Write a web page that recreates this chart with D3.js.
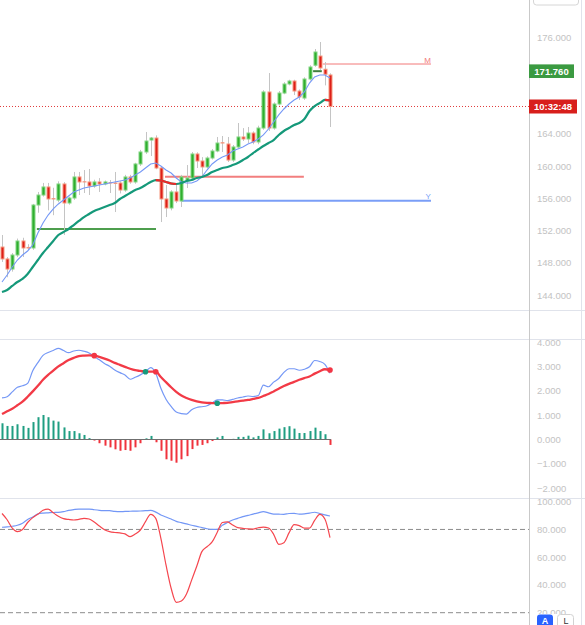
<!DOCTYPE html>
<html><head><meta charset="utf-8">
<script src="https://cdn.jsdelivr.net/npm/d3@7"></script>
<style>body{margin:0;background:#fff}svg{display:block}text{font-family:"Liberation Sans",Arial,sans-serif}</style>
</head><body><svg id="c" width="585" height="625"></svg>
<script>
// ---------- DATA ----------
const openP  = [149.95,148.47,147.22,148.96,150.70,149.90,149.83,155.16,156.40,157.40,155.95,155.78,157.77,155.41,156.03,158.64,158.04,158.02,157.52,158.02,157.77,157.93,157.89,157.89,157.02,158.64,158.02,160.25,161.74,163.22,163.47,159.75,155.91,154.79,156.78,155.66,158.14,158.51,161.49,160.62,159.88,160.99,161.86,162.88,162.73,160.74,162.36,163.60,163.35,164.09,162.98,164.71,169.18,164.71,167.69,169.05,170.17,170.54,169.30,168.43,170.79,172.50,173.64,172.00,171.29];
const highP  = [151.44,148.70,149.20,151.00,151.10,150.30,155.30,156.78,157.90,157.90,157.30,158.10,158.00,156.20,159.26,159.26,159.50,159.63,158.30,158.50,158.20,158.26,159.26,158.10,158.90,158.90,160.40,162.00,164.22,163.60,163.80,160.00,157.64,157.00,157.77,158.90,160.12,161.74,161.70,161.10,161.20,162.10,163.60,163.72,163.60,162.60,165.33,164.70,164.84,164.30,165.00,169.40,171.53,167.90,169.30,170.40,170.70,170.70,169.50,171.00,172.50,174.51,175.38,172.90,171.50];
const lowP   = [148.10,146.20,146.90,148.70,148.71,149.60,149.60,154.20,156.20,154.50,153.90,155.50,151.44,155.20,155.80,156.40,156.65,156.40,157.30,156.78,157.60,156.65,154.29,156.60,156.80,157.80,157.80,160.00,161.50,161.24,159.60,153.05,153.67,154.50,155.40,154.91,157.27,158.30,159.75,158.64,159.70,160.80,161.70,161.74,160.50,160.50,162.20,163.10,162.85,162.70,162.70,164.50,164.34,164.50,167.50,168.90,170.00,168.80,168.19,168.20,170.60,172.30,171.90,170.00,164.84];
const closeP = [148.47,147.22,148.96,150.70,149.83,149.83,155.16,156.40,157.40,155.91,155.91,157.77,155.41,156.03,158.64,158.02,158.02,157.52,158.02,157.77,158.02,157.89,157.85,157.02,158.64,158.02,160.25,161.74,163.10,163.47,159.75,155.91,154.79,156.78,155.66,158.64,158.51,161.49,160.62,159.88,160.99,161.86,162.85,162.85,160.74,162.36,163.60,163.35,164.09,162.98,164.71,169.18,164.71,167.69,169.05,170.17,170.54,169.30,168.56,170.79,172.28,174.14,172.16,171.38,167.38];
const maFast = [145.61,146.48,147.47,148.34,148.96,149.46,150.20,151.69,152.93,153.92,154.67,155.29,155.78,156.28,156.78,157.02,157.27,157.40,157.52,157.64,157.77,157.89,158.02,158.14,158.26,158.51,158.88,159.26,159.75,160.25,160.37,160.00,159.50,159.13,158.51,158.02,157.89,157.89,158.14,158.64,159.50,160.25,160.74,161.12,161.36,161.86,162.11,162.36,162.73,162.98,163.35,163.85,164.59,165.46,166.33,167.07,167.69,168.19,168.56,169.18,170.29,171.04,171.29,171.29,170.91];
const maSlow = [144.37,144.62,145.12,145.61,145.99,146.60,147.47,148.34,149.21,149.95,150.70,151.44,151.81,152.19,152.68,153.18,153.67,154.05,154.42,154.67,154.91,155.16,155.41,155.91,156.28,156.65,157.02,157.27,157.64,158.02,158.26,158.20,158.02,157.83,157.77,157.89,158.14,158.26,158.51,158.64,158.88,159.26,159.50,159.75,159.88,160.12,160.37,160.74,161.12,161.61,162.05,162.48,162.85,163.22,163.85,164.34,164.71,165.09,165.33,165.83,166.82,167.44,167.81,168.19,168.13];
const macdLine = [1.70,1.75,1.95,2.14,2.20,2.30,2.82,3.15,3.45,3.57,3.65,3.74,3.65,3.56,3.63,3.66,3.62,3.55,3.40,3.27,3.12,3.00,2.85,2.74,2.64,2.47,2.55,2.65,2.78,2.95,2.72,2.10,1.65,1.35,1.12,1.06,1.04,1.22,1.31,1.34,1.38,1.50,1.62,1.62,1.59,1.64,1.70,1.74,1.78,1.76,1.80,2.23,2.16,2.35,2.50,2.75,2.90,2.90,2.84,2.88,2.98,3.24,3.20,3.08,2.72];
const signalLine = [1.04,1.15,1.26,1.40,1.55,1.75,1.97,2.20,2.45,2.65,2.82,3.00,3.13,3.26,3.35,3.42,3.44,3.45,3.44,3.39,3.32,3.24,3.14,3.06,2.98,2.90,2.84,2.81,2.78,2.78,2.78,2.56,2.35,2.14,1.95,1.80,1.70,1.62,1.56,1.52,1.50,1.49,1.48,1.49,1.50,1.53,1.56,1.59,1.62,1.66,1.70,1.78,1.86,1.97,2.08,2.19,2.28,2.36,2.45,2.52,2.58,2.70,2.80,2.88,2.85];
const histogram = [0.66,0.55,0.55,0.62,0.55,0.47,0.71,0.91,1.00,0.91,0.77,0.73,0.49,0.34,0.34,0.25,0.18,0.05,-0.05,-0.16,-0.26,-0.33,-0.41,-0.47,-0.44,-0.47,-0.33,-0.16,0.04,0.14,-0.12,-0.47,-0.82,-0.88,-0.96,-0.82,-0.69,-0.40,-0.26,-0.23,-0.16,-0.07,0.08,0.14,0.01,0.02,0.10,0.10,0.15,0.08,0.14,0.41,0.25,0.34,0.44,0.50,0.54,0.44,0.26,0.26,0.34,0.48,0.34,0.21,-0.23];
const stochFast = [91.5,87.0,81.0,78.5,80.0,85.0,88.5,91.0,93.8,94.7,92.0,89.5,87.8,87.2,86.8,87.3,88.0,87.5,85.3,82.5,79.8,78.4,77.8,77.5,76.8,74.8,76.7,79.6,85.6,90.9,88.0,73.6,54.4,37.6,27.5,28.5,33.5,43.5,53.5,64.0,67.5,71.0,78.0,85.0,85.4,83.2,81.3,80.8,80.4,80.3,81.2,81.7,81.0,76.5,69.3,70.5,77.5,83.5,82.8,81.0,81.0,86.5,90.9,87.5,74.1];
const stochSlow = [81.6,81.8,82.3,83.0,84.5,87.2,89.0,91.2,91.8,92.0,92.2,92.3,92.8,93.7,94.3,94.7,94.7,94.7,94.2,93.8,93.6,93.5,93.0,92.8,93.0,93.1,93.2,93.3,93.5,93.8,92.5,90.4,89.0,87.5,85.8,84.9,84.0,83.0,82.2,81.3,80.5,80.1,80.1,83.0,85.0,86.8,88.0,89.2,90.1,91.1,92.0,92.8,92.0,91.1,91.0,90.9,91.5,91.6,91.0,91.2,91.8,92.4,91.5,90.5,89.7];
// 168 and 172 sit behind the two price labels in the reference
const priceTicks = [144,148,152,156,160,164,176];
const macdTicks = [-2,-1,0,1,2,3,4];
const stochTicks = [20,40,60,80,100];
const stochBands = [80,20];
const levelPrice = [172.65,155.68,158.66,152.19,171.76];
const levelFrom  = [62.6,34.9,31.8,6.8,60.7];
const levelTo    = [83.7,83.7,58.9,30.05,62.4];
const levelText  = ["M","Y","","",""];
const markPrice = 171.76;
const markLabel = "171.760";
const countdown = "10:32:48";

// ---------- STYLE ----------
const levelColor = ["#f27878","#7a9ef7","#f06868","#4e9e4e","#3f7f3f"];
const levelWidth = [1,2,2,2,2];

const svg = d3.select('#c');
const AX = 529;
svg.append('rect').attr('width',585).attr('height',625).attr('fill','#fff');

const x  = d3.scaleLinear().domain([0,64]).range([2,330]);
const yP = d3.scaleLinear().domain([144,176]).range([295,37]);
const yM = d3.scaleLinear().domain([-2,4]).range([488,342]);
const yS = d3.scaleLinear().domain([20,100]).range([612.7,501.7]);

const defs = svg.append('defs');
function clip(id,x0,y0,w,h){defs.append('clipPath').attr('id',id).append('rect').attr('x',x0).attr('y',y0).attr('width',w).attr('height',h);}
clip('cp',0,0,AX,310); clip('cm',0,340,AX,158); clip('cs',0,499,AX,126);
clip('ap',AX,0,56,310); clip('am',AX,340,56,158); clip('as',AX,499,56,115);

// frame lines
const grid='#e0e3eb';
[310.5,339.5,498.5].forEach(y=>svg.append('line').attr('x1',0).attr('x2',585).attr('y1',y).attr('y2',y).attr('stroke',grid));
svg.append('line').attr('x1',581.5).attr('x2',581.5).attr('y1',0).attr('y2',625).attr('stroke',grid);
svg.append('line').attr('x1',AX+0.5).attr('x2',AX+0.5).attr('y1',0).attr('y2',625).attr('stroke','#c9c9c9');
svg.append('rect').attr('x',533.5).attr('y',-8).attr('width',45).attr('height',13).attr('rx',3).attr('fill','none').attr('stroke','#d6d6d6');

// ---------- PRICE PANE ----------
const gp = svg.append('g').attr('clip-path','url(#cp)');
const idx = d3.range(openP.length);
const cx = i => Math.round(x(i))+0.5;

gp.append('line').attr('x1',0).attr('x2',AX).attr('y1',yP(closeP[closeP.length-1])).attr('y2',yP(closeP[closeP.length-1]))
  .attr('stroke','#e03c3c').attr('stroke-dasharray','1,2');

levelPrice.forEach((p,k)=>{
  gp.append('line').attr('x1',x(levelFrom[k])).attr('x2',x(levelTo[k])).attr('y1',yP(p)).attr('y2',yP(p))
    .attr('stroke',levelColor[k]).attr('stroke-width',levelWidth[k]).attr('opacity',k===2?0.85:1);
  if(levelText[k]) gp.append('text').attr('x',x(levelTo[k])).attr('y',yP(p)-1.5).attr('text-anchor','end')
    .attr('font-size',8).attr('fill',levelColor[k]).text(levelText[k]);
});

gp.selectAll('.wk').data(idx).enter().append('line')
  .attr('x1',cx).attr('x2',cx).attr('y1',i=>yP(highP[i])).attr('y2',i=>yP(lowP[i]))
  .attr('stroke','#c4c4c4').attr('stroke-width',1);
gp.selectAll('.bd').data(idx).enter().append('rect')
  .attr('x',i=>cx(i)-1.5).attr('width',3)
  .attr('y',i=>yP(Math.max(openP[i],closeP[i])))
  .attr('height',i=>Math.abs(yP(openP[i])-yP(closeP[i])))
  .attr('fill',i=>closeP[i]>openP[i]?'#2fae2f':'#dd1f18')
  .attr('stroke',i=>closeP[i]>openP[i]?'#82d682':'#f5987e').attr('stroke-width',1);

const lineFast = d3.line().x((d,i)=>x(i)).y(d=>yP(d));
gp.append('path').attr('d',lineFast(maFast)).attr('fill','none').attr('stroke','#7598f6').attr('stroke-width',1.1);
const lineSlow = d3.line().x(d=>x(d)).y(d=>yP(maSlow[d])).curve(d3.curveMonotoneX);
gp.append('path').attr('d',lineSlow(idx)).attr('fill','none').attr('stroke','#15997a').attr('stroke-width',2.2);
let run=null;
for(let i=1;i<maSlow.length;i++){
  if(maSlow[i]<maSlow[i-1]){ if(!run) run=[i-1]; run.push(i); }
  else if(run){ gp.append('path').attr('d',lineSlow(run)).attr('fill','none').attr('stroke','#ee2a2a').attr('stroke-width',2.2); run=null; }
}
if(run) gp.append('path').attr('d',lineSlow(run)).attr('fill','none').attr('stroke','#ee2a2a').attr('stroke-width',2.2);

const axStyle = (g)=>{g.select('.domain').remove(); g.selectAll('text').attr('fill','#c3c3c3').attr('font-size',9.5).attr('font-family','"Liberation Sans",Arial,sans-serif');};
svg.append('g').attr('clip-path','url(#ap)').append('g').attr('transform',`translate(${AX},0)`)
  .call(d3.axisRight(yP).tickValues(priceTicks).tickSize(0).tickPadding(8).tickFormat(d3.format('.3f'))).call(axStyle);

svg.append('rect').attr('x',AX).attr('y',yP(markPrice)-6.8).attr('width',45).attr('height',13.6).attr('fill','#3b9a41');
svg.append('text').attr('x',AX+22.5).attr('y',yP(markPrice)+3.4).attr('text-anchor','middle').attr('font-size',9.5).attr('font-weight','bold').attr('fill','#fff').text(markLabel);
const lastY = yP(closeP[closeP.length-1]);
svg.append('rect').attr('x',AX).attr('y',lastY-7).attr('width',48).attr('height',14).attr('fill','#d81f1c');
svg.append('text').attr('x',AX+24).attr('y',lastY+3.5).attr('text-anchor','middle').attr('font-size',9.5).attr('font-weight','bold').attr('fill','#fff').text(countdown);

// ---------- MACD PANE ----------
const gm = svg.append('g').attr('clip-path','url(#cm)');
gm.selectAll('.hb').data(idx).enter().append('rect')
  .attr('x',i=>cx(i)-1).attr('width',2)
  .attr('y',i=>Math.min(yM(0),yM(histogram[i])))
  .attr('height',i=>Math.abs(yM(histogram[i])-yM(0)))
  .attr('fill',i=>histogram[i]>=0?'#1f9e82':'#f0323c');
gm.append('line').attr('x1',x(0)-2).attr('x2',x(64)+1).attr('y1',Math.round(yM(0))+0.5).attr('y2',Math.round(yM(0))+0.5).attr('stroke','#6f6f6f');
gm.append('path').attr('d',d3.line().x((d,i)=>x(i)).y(d=>yM(d)).curve(d3.curveMonotoneX)(macdLine)).attr('fill','none').attr('stroke','#7598f6').attr('stroke-width',1.2);
gm.append('path').attr('d',d3.line().x((d,i)=>x(i)).y(d=>yM(d)).curve(d3.curveMonotoneX)(signalLine)).attr('fill','none').attr('stroke','#f23a46').attr('stroke-width',2.3);
const cross = idx.filter(i=>i>0 && Math.sign(histogram[i])!==Math.sign(histogram[i-1]));
gm.selectAll('.dot').data(cross).enter().append('circle').attr('cx',i=>x(i)).attr('cy',i=>yM(signalLine[i])).attr('r',2.8)
  .attr('fill',i=>histogram[i]>=0?'#17997c':'#f23645');
svg.append('g').attr('clip-path','url(#am)').append('g').attr('transform',`translate(${AX},0)`)
  .call(d3.axisRight(yM).tickValues(macdTicks).tickSize(0).tickPadding(8).tickFormat(d3.format('.3f'))).call(axStyle);

// ---------- STOCH PANE ----------
const gs = svg.append('g').attr('clip-path','url(#cs)');
stochBands.forEach(v=>gs.append('line').attr('x1',0).attr('x2',AX).attr('y1',yS(v)).attr('y2',yS(v)).attr('stroke','#8c8c8c').attr('stroke-dasharray','5,3'));
gs.append('path').attr('d',d3.line().x((d,i)=>x(i)).y(d=>yS(d)).curve(d3.curveMonotoneX)(stochSlow)).attr('fill','none').attr('stroke','#7397f6').attr('stroke-width',1.2);
gs.append('path').attr('d',d3.line().x((d,i)=>x(i)).y(d=>yS(d)).curve(d3.curveMonotoneX)(stochFast)).attr('fill','none').attr('stroke','#f5464e').attr('stroke-width',1.2);
svg.append('g').attr('clip-path','url(#as)').append('g').attr('transform',`translate(${AX},0)`)
  .call(d3.axisRight(yS).tickValues(stochTicks).tickSize(0).tickPadding(8).tickFormat(d3.format('.3f'))).call(axStyle);

// bottom buttons
svg.append('rect').attr('x',537).attr('y',614.5).attr('width',16).attr('height',16).attr('rx',3).attr('fill','#2962ff');
svg.append('text').attr('x',545).attr('y',624).attr('text-anchor','middle').attr('font-size',9).attr('font-weight','bold').attr('fill','#fff').text('A');
svg.append('rect').attr('x',557.5).attr('y',614.5).attr('width',16).attr('height',16).attr('rx',3).attr('fill','#fff').attr('stroke','#d2d2d2');
svg.append('text').attr('x',566).attr('y',624).attr('text-anchor','middle').attr('font-size',9).attr('fill','#333').text('L');
</script></body></html>
